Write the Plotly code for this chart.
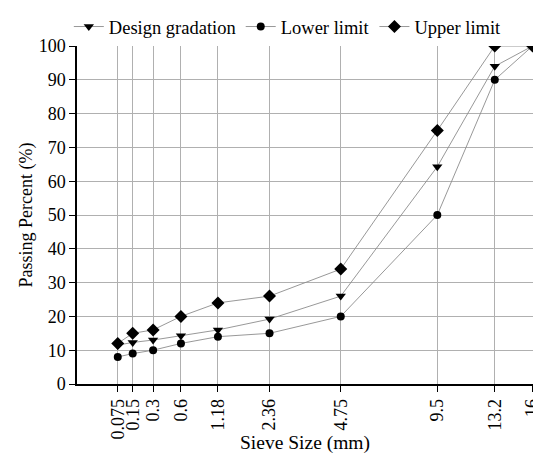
import plotly.graph_objects as go

sieve_sizes = [0.075, 0.15, 0.3, 0.6, 1.18, 2.36, 4.75, 9.5, 13.2, 16]
tick_labels = ["0.075", "0.15", "0.3", "0.6", "1.18", "2.36", "4.75", "9.5", "13.2", "16"]
design_gradation = [11.5, 12.3, 13, 14.3, 16, 19.2, 26, 64.3, 94, 100]
lower_limit = [8, 9, 10, 12, 14, 15, 20, 50, 90, 100]
upper_limit = [12, 15, 16, 20, 24, 26, 34, 75, 100, 100]

P = 0.45
xt = [s ** P for s in sieve_sizes]

FONT = "Times New Roman, Liberation Serif, DejaVu Serif, serif"
fig = go.Figure()
line_style = dict(color="#8c8c8c", width=0.9)
fig.add_trace(go.Scatter(x=xt, y=design_gradation, name="Design gradation", mode="lines+markers",
                         line=line_style, marker=dict(symbol="triangle-down", size=9, color="black")))
fig.add_trace(go.Scatter(x=xt, y=lower_limit, name="Lower limit", mode="lines+markers",
                         line=line_style, marker=dict(symbol="circle", size=8, color="black")))
fig.add_trace(go.Scatter(x=xt, y=upper_limit, name="Upper limit", mode="lines+markers",
                         line=line_style, marker=dict(symbol="diamond", size=10, color="black")))

fig.update_layout(
    width=533, height=446,
    margin=dict(l=69, r=8, t=37, b=70),
    paper_bgcolor="white", plot_bgcolor="white",
    font=dict(family=FONT, size=18, color="black"),
    showlegend=True,
    legend=dict(orientation="h", x=0.525, xanchor="center", xref="container",
                y=1.0, yanchor="top", yref="container",
                font=dict(size=18.5), bgcolor="rgba(0,0,0,0)", itemwidth=30, tracegroupgap=0),
    xaxis=dict(range=[0, 16 ** P * 1.001], tickvals=xt, ticktext=tick_labels, tickangle=-90,
               ticklabeloverflow="allow",
               showgrid=True, gridcolor="#b0b0b0", gridwidth=1,
               showline=True, linecolor="black", linewidth=1.5,
               ticks="outside", ticklen=6, tickcolor="black", automargin=False,
               title=dict(text="Sieve Size (mm)", font=dict(size=19.5), standoff=0),
               zeroline=False),
    yaxis=dict(range=[0, 100], tickvals=list(range(0, 101, 10)),
               showgrid=True, gridcolor="#b0b0b0", gridwidth=1,
               showline=True, linecolor="black", linewidth=1.5,
               ticks="outside", ticklen=6, tickcolor="black", automargin=False,
               title=dict(text="Passing Percent (%)", font=dict(size=18), standoff=1),
               zeroline=False),
)
fig.write_html("out.html")
